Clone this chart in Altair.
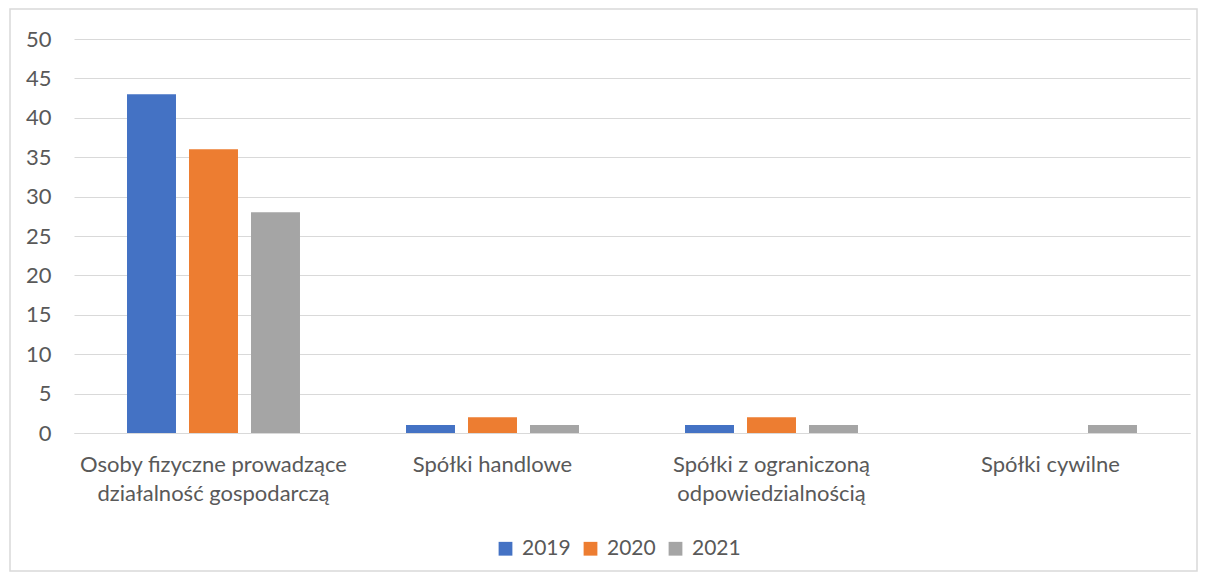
import altair as alt
import pandas as pd

categories = [
    "Osoby fizyczne prowadzące\ndziałalność gospodarczą",
    "Spółki handlowe",
    "Spółki z ograniczoną\nodpowiedzialnością",
    "Spółki cywilne",
]
years = ["2019", "2020", "2021"]
values_2019 = [43, 1, 1, 0]
values_2020 = [36, 2, 2, 0]
values_2021 = [28, 1, 1, 1]
colors = ["#4472C4", "#ED7D31", "#A5A5A5"]

rows = []
for yr, vals in zip(years, [values_2019, values_2020, values_2021]):
    for c, v in zip(categories, vals):
        rows.append({"cat": c, "year": yr, "value": v})
df = pd.DataFrame(rows)

FONT = "Lato"
TXT = "#595959"
GRID = "#D9D9D9"

bars = alt.Chart(df).mark_bar().encode(
    x=alt.X(
        "cat:N",
        sort=categories,
        title=None,
        scale=alt.Scale(paddingInner=0.38, paddingOuter=0.19),
        axis=alt.Axis(
            labelAngle=0,
            labelExpr="split(datum.label, '\\n')",
            labelFont=FONT,
            labelFontSize=22,
            labelColor=TXT,
            labelLineHeight=29,
            labelPadding=21,
            labelLimit=400,
            ticks=False,
            domainColor=GRID,
            domainWidth=1,
        ),
    ),
    xOffset=alt.XOffset("year:N", sort=years, scale=alt.Scale(paddingInner=0.21, paddingOuter=0)),
    y=alt.Y(
        "value:Q",
        title=None,
        scale=alt.Scale(domain=[0, 50], nice=False),
        axis=alt.Axis(
            values=list(range(0, 55, 5)),
            labelFont=FONT,
            labelFontSize=22,
            labelColor=TXT,
            labelPadding=23,
            ticks=False,
            domain=False,
            gridColor=GRID,
            gridWidth=1,
        ),
    ),
    color=alt.Color(
        "year:N",
        sort=years,
        scale=alt.Scale(domain=years, range=colors),
        legend=alt.Legend(
            title=None,
            orient="none",
            direction="horizontal",
            legendX=421,
            legendY=499,
            symbolType="square",
            symbolSize=190,
            symbolStrokeWidth=0,
            labelFont=FONT,
            labelFontSize=21,
            labelColor=TXT,
            columnPadding=9,
            labelOffset=6,
        ),
    ),
)

border = alt.Chart(pd.DataFrame({"a": [0]})).mark_rect(
    fill=None, stroke=GRID, strokeWidth=1.5, clip=False
).encode(
    x=alt.value(-64), x2=alt.value(1123), y=alt.value(-30), y2=alt.value(532)
)

chart = alt.layer(bars, border).properties(
    width=1116,
    height=394,
    autosize=alt.AutoSizeParams(type="none"),
    padding={"left": 66, "top": 31, "right": 8, "bottom": 139},
).configure_view(stroke=None)

chart.save("out.html", embed_options={"renderer": "svg", "actions": False})
